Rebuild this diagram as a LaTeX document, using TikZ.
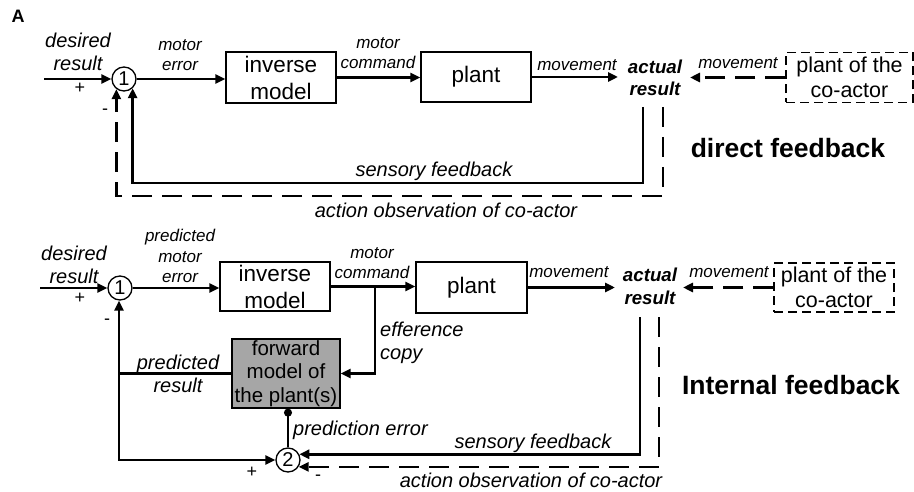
\documentclass[tikz,border=0pt]{standalone}
\usepackage{fontspec}
\setmainfont{Liberation Sans}
\usetikzlibrary{arrows.meta,calc}
\definecolor{fwdgray}{RGB}{166,166,166}

\tikzset{
  box/.style={draw, line width=1.3pt, minimum width=110pt, minimum height=50pt,
    inner sep=0pt, align=center, font=\fontsize{22.5}{27}\selectfont},
  cbox/.style={box, line width=1.1pt, dash pattern=on 9pt off 5pt,
    minimum width=127pt, font=\fontsize{21.5}{25}\selectfont},
  fwdbox/.style={box, fill=fwdgray, font=\fontsize{20.5}{23.5}\selectfont},
  sumnode/.style={circle, draw, line width=1.3pt, minimum size=24pt, inner sep=0pt,
    font=\fontsize{20}{20}\selectfont},
  lbl/.style={inner sep=0pt, align=center, font=\fontsize{20}{23}\selectfont\itshape},
  slbl/.style={inner sep=0pt, align=center, font=\fontsize{17}{20.5}\selectfont\itshape},
  reslbl/.style={inner sep=0pt, align=center, font=\fontsize{18.7}{22.6}\selectfont\bfseries\itshape},
  heading/.style={inner sep=0pt, font=\fontsize{26.5}{30}\selectfont\bfseries},
  sign/.style={inner sep=0pt, font=\fontsize{18}{18}\selectfont},
  tip/.tip={Triangle[length=10pt,width=9pt]},
  conn/.style={line width=2.6pt, -tip},
  dconn/.style={conn, dash pattern=on 20pt off 10pt},
  wire/.style={line width=2.6pt},
}

\begin{document}
\begin{tikzpicture}[x=1pt, y=-1pt]
\useasboundingbox (0,0) rectangle (914,492);

\node[inner sep=0pt, font=\fontsize{18}{18}\selectfont\bfseries] (tagA) at (18,16) {A};

% ---------------- direct feedback loop ----------------
\coordinate (inT) at (44,79);
\node[lbl] (desT) at (78,52) {desired\\result};
\node[sumnode] (s1T) at (124,79) {1};
\node[box, minimum height=51pt] (invT) at (281,77.5) {inverse\\model};
\node[box] (plT) at (476,77) {plant};
\node[reslbl] (actT) at (655,78) {actual\\result};
\node[cbox] (coT) at (849.5,77.5) {plant of the\\co-actor};
\coordinate (mvT) at (618,77);
\coordinate (cmvT) at (690,77.5);
\coordinate (sfT) at (643,107);
\coordinate (aoT) at (663,107);

\draw[conn] (inT) -- (s1T.west);
\draw[conn] (s1T.east) -- (s1T.east -| invT.west);
\draw[conn] (invT.east) -- (invT.east -| plT.west);
\draw[conn] (plT.east) -- (mvT);
\draw[dconn] (coT.west) -- (cmvT);
\draw[conn] (sfT) -- ++(0,76) -| (s1T.-47);
\draw[dconn] (aoT) -- ++(0,89) -| (s1T.-127);

\node[slbl] (meT) at (180,55) {motor\\error};
\node[slbl] (mcT) at (378,53) {motor\\command};
\node[slbl] (mvlT) at (577,65) {movement};
\node[slbl] (cmvlT) at (738,63) {movement};
\node[sign] (plusT) at (80,88) {+};
\node[sign] (minusT) at (105,112) {-};
\node[lbl] (sfl) at (434,171) {sensory feedback};
\node[lbl] (aol) at (446,210) {action observation of co-actor};
\node[heading] (dfb) at (788,148) {direct feedback};

% ---------------- internal feedback loop ----------------
\coordinate (inB) at (40,288);
\node[lbl] (desB) at (74,265) {desired\\result};
\node[sumnode] (s1B) at (120,288) {1};
\node[box, minimum height=49pt] (invB) at (275,286.5) {inverse\\model};
\node[box, minimum width=111pt, minimum height=51pt] (plB) at (471.5,287.5) {plant};
\node[reslbl] (actB) at (650,286.5) {actual\\result};
\node[cbox, minimum width=120pt, minimum height=49pt] (coB) at (834,287.5) {plant of the\\co-actor};
\node[fwdbox, minimum width=108pt, minimum height=69pt] (fwd) at (286,373.5) {forward\\model of\\the plant(s)};
\node[sumnode] (s2) at (288,460) {2};
\coordinate (mvB) at (615,287.5);
\coordinate (cmvB) at (683,287.5);
\coordinate (efB) at (375,287);
\coordinate (prB) at (119,460);
\coordinate (sfB) at (640,317);
\coordinate (aoB) at (659,317);

\draw[conn] (inB) -- (s1B.west);
\draw[conn] (s1B.east) -- (s1B.east -| invB.west);
\draw[conn] (invB.east) -- (invB.east -| plB.west);
\draw[conn] (plB.east) -- (mvB);
\draw[dconn] (coB.west) -- (cmvB);
\draw[conn] (efB) |- (fwd.east);
\draw[wire] (fwd.west) -- (fwd.west -| prB);
\draw[wire, tip-tip] (prB |- s1B.south) -- (prB) -- (s2.west);
\draw[line width=1.3pt, {Circle[length=8pt]}-] (fwd.south -| s2.north) -- (s2.north);
\draw[conn] (sfB) |- (s2.27);
\draw[dconn] (aoB) |- (s2.-33);

\node[slbl] (pmeB) at (180,256) {predicted\\motor\\error};
\node[slbl] (mcB) at (372,263) {motor\\command};
\node[slbl] (mvlB) at (569,272) {movement};
\node[slbl] (cmvlB) at (729,272) {movement};
\node[lbl, align=left, anchor=west] (efl) at (380,342.5) {efference\\copy};
\node[lbl] (prl) at (178,373.5) {predicted\\result};
\node[lbl, anchor=west] (pel) at (293,430) {prediction error};
\node[lbl] (sflB) at (533,443) {sensory feedback};
\node[lbl] (aolB) at (531,480) {action observation of co-actor};
\node[sign] (plusB) at (80,298) {+};
\node[sign] (minusB) at (107,322) {-};
\node[sign] (plus2) at (252,472) {+};
\node[sign] (minus2) at (318,478) {-};
\node[heading] (ifb) at (791,385) {Internal feedback};
\end{tikzpicture}
\end{document}
